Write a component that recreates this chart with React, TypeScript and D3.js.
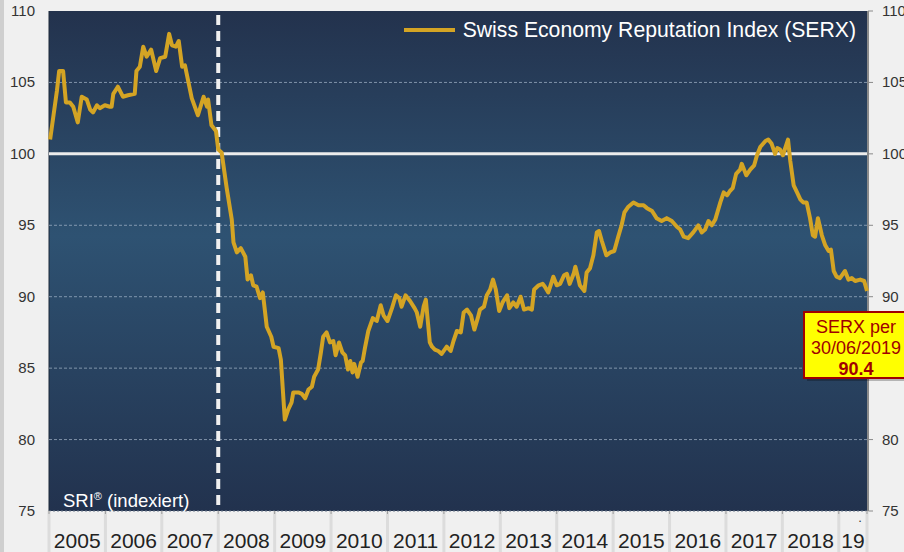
import { useEffect, useRef } from "react";
import * as d3 from "d3";

// SERX readings: [decimal year, index value]
const serx2005to2007: [number, number][] = [
  [2005.02, 101.0], [2005.08, 102.7], [2005.14, 104.4], [2005.18, 105.8], [2005.25, 105.8],
  [2005.3, 103.6], [2005.37, 103.6], [2005.43, 103.3], [2005.51, 102.2], [2005.58, 104.0],
  [2005.67, 103.8], [2005.73, 103.1], [2005.78, 102.9], [2005.85, 103.4], [2005.9, 103.2],
  [2005.99, 103.4], [2006.08, 103.3], [2006.11, 103.3], [2006.14, 104.2], [2006.22, 104.7],
  [2006.31, 104.0], [2006.4, 104.1], [2006.52, 104.2], [2006.55, 105.8], [2006.61, 106.1],
  [2006.67, 107.5], [2006.73, 106.8], [2006.81, 107.3], [2006.9, 105.8], [2006.97, 106.7],
  [2007.06, 106.8], [2007.13, 108.4], [2007.18, 107.6], [2007.25, 107.5], [2007.3, 107.9],
  [2007.36, 106.1], [2007.41, 106.2], [2007.53, 103.9], [2007.64, 102.7], [2007.74, 104.0],
  [2007.8, 103.3], [2007.82, 103.8], [2007.88, 102.0], [2007.96, 101.6],
];

const serx2008to2010: [number, number][] = [
  [2008.0, 100.3], [2008.06, 100.1], [2008.15, 97.6], [2008.24, 95.4], [2008.27, 93.8],
  [2008.33, 93.1], [2008.4, 93.4], [2008.48, 92.8], [2008.52, 91.2], [2008.58, 91.5],
  [2008.62, 90.8], [2008.68, 90.7], [2008.74, 89.9], [2008.79, 90.3], [2008.86, 87.9],
  [2008.94, 87.2], [2008.98, 86.5], [2009.07, 86.4], [2009.11, 85.6], [2009.18, 81.4],
  [2009.24, 82.1], [2009.3, 82.6], [2009.33, 83.3], [2009.42, 83.3], [2009.48, 83.2],
  [2009.54, 82.9], [2009.6, 83.5], [2009.66, 83.7], [2009.7, 84.4], [2009.77, 84.9],
  [2009.82, 86.1], [2009.86, 87.2], [2009.92, 87.5], [2009.98, 86.8], [2010.04, 86.9],
  [2010.08, 85.9], [2010.14, 86.8], [2010.2, 86.1], [2010.25, 85.9], [2010.3, 84.9],
  [2010.34, 85.5], [2010.38, 84.7], [2010.41, 85.3], [2010.47, 84.4], [2010.53, 85.4],
  [2010.56, 85.5], [2010.6, 86.4], [2010.66, 87.6], [2010.74, 88.5], [2010.81, 88.3],
  [2010.88, 89.4], [2010.93, 88.7],
];

const serx2011to2014: [number, number][] = [
  [2011.0, 88.3], [2011.08, 89.2], [2011.15, 90.1], [2011.21, 89.9], [2011.25, 89.3],
  [2011.32, 90.1], [2011.4, 89.7], [2011.48, 89.2], [2011.52, 88.9], [2011.58, 87.9],
  [2011.64, 89.3], [2011.68, 89.8], [2011.71, 88.5], [2011.75, 86.8], [2011.79, 86.5],
  [2011.84, 86.3], [2011.9, 86.2], [2011.96, 86.0], [2012.05, 86.5], [2012.12, 86.2],
  [2012.17, 86.9], [2012.23, 87.6], [2012.3, 87.5], [2012.35, 88.9], [2012.41, 89.1],
  [2012.48, 88.7], [2012.54, 87.7], [2012.6, 88.5], [2012.64, 89.1], [2012.71, 89.3],
  [2012.76, 90.1], [2012.82, 90.5], [2012.87, 91.2], [2012.92, 90.5], [2012.98, 89.0],
  [2013.04, 89.6], [2013.12, 90.1], [2013.16, 89.2], [2013.23, 89.6], [2013.29, 89.3],
  [2013.36, 90.0], [2013.42, 89.1], [2013.5, 89.2], [2013.56, 89.1], [2013.6, 90.5],
  [2013.68, 90.8], [2013.75, 90.9], [2013.79, 90.7], [2013.85, 90.3], [2013.9, 90.9],
  [2013.94, 91.4], [2014.0, 90.8], [2014.06, 90.9], [2014.13, 91.5], [2014.18, 91.6],
  [2014.23, 90.9], [2014.3, 91.6], [2014.33, 92.1], [2014.38, 91.3], [2014.41, 90.8],
  [2014.49, 90.4], [2014.53, 91.7], [2014.59, 92.0], [2014.65, 92.9], [2014.71, 94.5],
  [2014.75, 94.6], [2014.8, 93.9], [2014.88, 92.9], [2014.95, 93.1],
];

const serx2015to2019: [number, number][] = [
  [2015.02, 93.2], [2015.09, 94.2], [2015.15, 95.0], [2015.2, 95.9], [2015.27, 96.3],
  [2015.36, 96.6], [2015.45, 96.4], [2015.54, 96.4], [2015.6, 96.2], [2015.69, 96.0],
  [2015.77, 95.5], [2015.86, 95.3], [2015.95, 95.5], [2016.04, 95.3], [2016.13, 94.9],
  [2016.19, 94.7], [2016.25, 94.2], [2016.33, 94.1], [2016.42, 94.5], [2016.51, 95.0],
  [2016.57, 94.5], [2016.63, 94.7], [2016.69, 95.3], [2016.75, 95.0], [2016.81, 95.4],
  [2016.9, 96.6], [2016.96, 97.3], [2017.02, 97.1], [2017.07, 97.4], [2017.12, 97.6],
  [2017.18, 98.6], [2017.25, 98.9], [2017.28, 99.3], [2017.36, 98.5], [2017.43, 98.9],
  [2017.5, 99.2], [2017.55, 99.9], [2017.61, 100.5], [2017.7, 100.9], [2017.75, 101.0],
  [2017.81, 100.7], [2017.87, 100.0], [2017.91, 100.4], [2017.96, 100.3], [2018.01, 99.9],
  [2018.05, 100.4], [2018.1, 101.0], [2018.14, 99.5], [2018.2, 97.8], [2018.26, 97.3],
  [2018.32, 96.8], [2018.37, 96.6], [2018.43, 96.6], [2018.49, 95.5], [2018.54, 94.3],
  [2018.58, 94.2], [2018.63, 95.5], [2018.7, 94.3], [2018.76, 93.6], [2018.82, 93.2],
  [2018.86, 93.3], [2018.91, 91.8], [2018.96, 91.4], [2019.02, 91.3], [2019.11, 91.8],
  [2019.17, 91.2], [2019.23, 91.3], [2019.29, 91.1], [2019.38, 91.2], [2019.45, 91.1],
  [2019.5, 90.4],
];

const yearLabels = ["2005", "2006", "2007", "2008", "2009", "2010", "2011", "2012", "2013", "2014", "2015", "2016", "2017", "2018", "19"];
const yTicks = [75, 80, 85, 90, 95, 100, 105, 110];
const gridValues = [80, 85, 90, 95, 105];
const crisisYear = 2008;
const lastDate = "30/06/2019";
const lastValue = 90.4;

const font = "'Liberation Sans', Arial, sans-serif";

const App = () => {
  const ref = useRef<SVGSVGElement>(null);

  useEffect(() => {
    const width = 904, height = 552;
    const left = 49, right = 867, top = 11, bottom = 511;

    const data = [...serx2005to2007, ...serx2008to2010, ...serx2011to2014, ...serx2015to2019];

    const svg = d3.select(ref.current)
      .html("")
      .attr("width", width)
      .attr("height", height);

    const x = d3.scaleLinear().domain([2005, 2019.5]).range([left, right]);
    const y = d3.scaleLinear().domain([75, 110]).range([bottom, top]);

    svg.append("rect").attr("width", width).attr("height", height).attr("fill", "#f0f0f0");
    svg.append("rect").attr("width", 4).attr("height", height).attr("fill", "#cfcfcf");

    const defs = svg.append("defs");
    const grad = defs.append("linearGradient")
      .attr("id", "bg").attr("x1", 0).attr("y1", 0).attr("x2", 0).attr("y2", 1);
    grad.append("stop").attr("offset", "0%").attr("stop-color", "#23324d");
    grad.append("stop").attr("offset", "45%").attr("stop-color", "#2e5272");
    grad.append("stop").attr("offset", "100%").attr("stop-color", "#22324e");

    svg.append("rect")
      .attr("x", left).attr("y", top)
      .attr("width", right - left).attr("height", bottom - top)
      .attr("fill", "url(#bg)");

    // plot border lines
    svg.append("line").attr("x1", left).attr("x2", left).attr("y1", top).attr("y2", bottom)
      .attr("stroke", "#1c2838").attr("stroke-width", 1);
    svg.append("line").attr("x1", right + 1).attr("x2", right + 1).attr("y1", top).attr("y2", bottom)
      .attr("stroke", "#8a8a8a").attr("stroke-width", 2);

    // dashed gridlines
    svg.selectAll("line.grid")
      .data(gridValues)
      .enter()
      .append("line")
      .attr("class", "grid")
      .attr("x1", left).attr("x2", right)
      .attr("y1", d => y(d)).attr("y2", d => y(d))
      .attr("stroke", "#9fb0c4")
      .attr("stroke-opacity", 0.75)
      .attr("stroke-width", 1)
      .attr("stroke-dasharray", "3,2");

    svg.append("line")
      .attr("x1", left).attr("x2", right)
      .attr("y1", y(75)).attr("y2", y(75))
      .attr("stroke", "#6c7a8c").attr("stroke-dasharray", "2,2");

    // 100 baseline
    svg.append("line")
      .attr("x1", left).attr("x2", right)
      .attr("y1", y(100)).attr("y2", y(100))
      .attr("stroke", "#ececec")
      .attr("stroke-width", 3);

    // crisis marker
    svg.append("line")
      .attr("x1", x(crisisYear)).attr("x2", x(crisisYear))
      .attr("y1", top + 4).attr("y2", bottom)
      .attr("stroke", "#f0f0f0")
      .attr("stroke-width", 4)
      .attr("stroke-dasharray", "10,6");

    // right axis ticks + labels
    svg.selectAll("line.rtick")
      .data(yTicks)
      .enter()
      .append("line")
      .attr("class", "rtick")
      .attr("x1", right + 1).attr("x2", right + 6)
      .attr("y1", d => y(d)).attr("y2", d => y(d))
      .attr("stroke", "#8a8a8a");

    svg.selectAll("text.ly")
      .data(yTicks)
      .enter()
      .append("text")
      .attr("class", "ly")
      .attr("x", 35)
      .attr("y", d => y(d) + 5)
      .attr("text-anchor", "end")
      .style("font-family", font)
      .style("font-size", "15px")
      .style("fill", "#333")
      .text(d => d);

    svg.selectAll("text.ry")
      .data(yTicks)
      .enter()
      .append("text")
      .attr("class", "ry")
      .attr("x", 882)
      .attr("y", d => y(d) + 5)
      .style("font-family", font)
      .style("font-size", "15px")
      .style("fill", "#333")
      .text(d => d);

    // year cells
    const bounds = d3.range(2005, 2020).concat([2019.5]);
    svg.selectAll("rect.sep")
      .data(bounds)
      .enter()
      .append("rect")
      .attr("class", "sep")
      .attr("x", d => x(d) - 1.5)
      .attr("y", bottom)
      .attr("width", 3)
      .attr("height", height - bottom)
      .attr("fill", "#dcdcdc");

    svg.selectAll("line.xtick")
      .data(bounds)
      .enter()
      .append("line")
      .attr("class", "xtick")
      .attr("x1", d => x(d)).attr("x2", d => x(d))
      .attr("y1", bottom).attr("y2", bottom + 3)
      .attr("stroke", "#9a9a9a");

    svg.selectAll("text.year")
      .data(yearLabels)
      .enter()
      .append("text")
      .attr("class", "year")
      .attr("x", (d, i) => (x(bounds[i]) + x(bounds[i + 1])) / 2)
      .attr("y", 548)
      .attr("text-anchor", "middle")
      .style("font-family", font)
      .style("font-size", "21px")
      .style("fill", "#222")
      .text(d => d);

    svg.append("text")
      .attr("x", 860).attr("y", 522)
      .attr("text-anchor", "middle")
      .style("font-family", font)
      .style("font-size", "13px")
      .style("fill", "#333")
      .text(".");

    // series
    const line = d3.line<[number, number]>()
      .x(d => x(d[0]))
      .y(d => y(d[1]));

    svg.append("path")
      .datum(data)
      .attr("d", line)
      .attr("fill", "none")
      .attr("stroke", "#d4a424")
      .attr("stroke-width", 4)
      .attr("stroke-linejoin", "round");

    // legend
    svg.append("line")
      .attr("x1", 404).attr("x2", 455)
      .attr("y1", 30).attr("y2", 30)
      .attr("stroke", "#d4a424")
      .attr("stroke-width", 4);

    svg.append("text")
      .attr("x", 856).attr("y", 37)
      .attr("text-anchor", "end")
      .style("font-family", font)
      .style("font-size", "21.2px")
      .style("fill", "#fff")
      .text("Swiss Economy Reputation Index (SERX)");

    const sri = svg.append("text")
      .attr("x", 63).attr("y", 507)
      .style("font-family", font)
      .style("font-size", "18.5px")
      .style("fill", "#fff");
    sri.append("tspan").text("SRI");
    sri.append("tspan").attr("dy", -7).style("font-size", "11px").text("®");
    sri.append("tspan").attr("dy", 7).text(" (indexiert)");

    // last value callout
    const bx = 804, by = 312;
    svg.append("rect")
      .attr("x", bx + 3).attr("y", by + 3)
      .attr("width", 110).attr("height", 66)
      .attr("fill", "#000").attr("opacity", 0.25);
    svg.append("rect")
      .attr("x", bx).attr("y", by)
      .attr("width", 110).attr("height", 66)
      .attr("fill", "#ffff00")
      .attr("stroke", "#a00000")
      .attr("stroke-width", 2);

    const lines = [
      { t: "SERX per", yy: 333, bold: false },
      { t: lastDate, yy: 354, bold: false },
      { t: lastValue.toFixed(1), yy: 375, bold: true },
    ];
    svg.selectAll("text.call")
      .data(lines)
      .enter()
      .append("text")
      .attr("class", "call")
      .attr("x", 856)
      .attr("y", d => d.yy)
      .attr("text-anchor", "middle")
      .style("font-family", font)
      .style("font-size", "18px")
      .style("font-weight", d => (d.bold ? "bold" : "normal"))
      .style("fill", "#a00000")
      .text(d => d.t);
  }, []);

  return <svg ref={ref} style={{ position: "absolute", left: 0, top: 0, display: "block" }}></svg>;
};

export default App;
